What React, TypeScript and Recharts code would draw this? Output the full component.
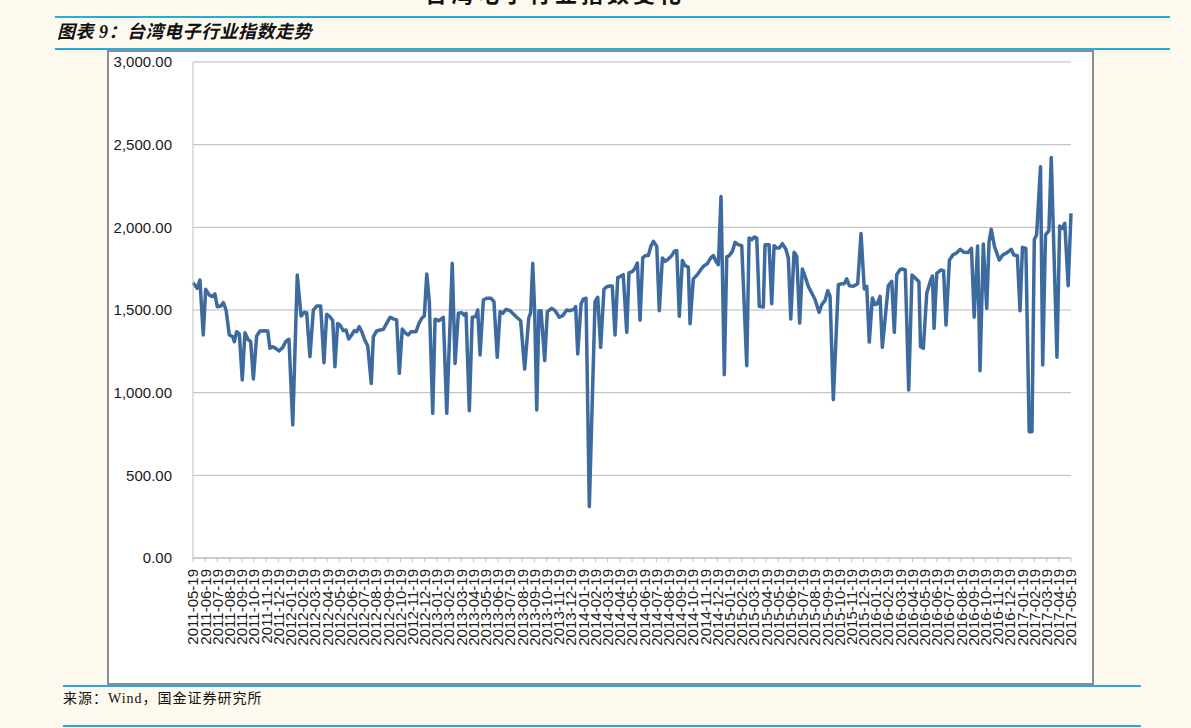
import React from "react";
import { LineChart, Line, XAxis, YAxis, CartesianGrid } from "recharts";

const monthLabels = [
  "2011-05-19","2011-06-19","2011-07-19","2011-08-19","2011-09-19","2011-10-19","2011-11-19","2011-12-19",
  "2012-01-19","2012-02-19","2012-03-19","2012-04-19","2012-05-19","2012-06-19","2012-07-19","2012-08-19",
  "2012-09-19","2012-10-19","2012-11-19","2012-12-19","2013-01-19","2013-02-19","2013-03-19","2013-04-19",
  "2013-05-19","2013-06-19","2013-07-19","2013-08-19","2013-09-19","2013-10-19","2013-11-19","2013-12-19",
  "2014-01-19","2014-02-19","2014-03-19","2014-04-19","2014-05-19","2014-06-19","2014-07-19","2014-08-19",
  "2014-09-19","2014-10-19","2014-11-19","2014-12-19","2015-01-19","2015-02-19","2015-03-19","2015-04-19",
  "2015-05-19","2015-06-19","2015-07-19","2015-08-19","2015-09-19","2015-10-19","2015-11-19","2015-12-19",
  "2016-01-19","2016-02-19","2016-03-19","2016-04-19","2016-05-19","2016-06-19","2016-07-19","2016-08-19",
  "2016-09-19","2016-10-19","2016-11-19","2016-12-19","2017-01-19","2017-02-19","2017-03-19","2017-04-19",
  "2017-05-19",
];

// time position of each observation, in months after 2011-05-19
const pointMonths = [
  0, 0.35, 0.57, 0.84, 1.04, 1.34, 1.56, 1.8, 1.99, 2.27, 2.49, 2.71, 2.98, 3.26, 3.39, 3.58, 3.8, 4.04, 4.26, 4.54,
  4.73, 4.95, 5.22, 5.49, 5.9, 6.13, 6.31, 6.54, 6.78, 7.05, 7.36, 7.6, 7.87, 8.18, 8.55, 8.86, 9.13, 9.32, 9.59, 9.87,
  10.14, 10.47, 10.74, 10.96, 11.23, 11.46, 11.64, 11.86, 12.05, 12.33, 12.55, 12.77, 13.01, 13.23, 13.42, 13.64, 13.84, 14.05, 14.33, 14.62,
  14.79, 15.06, 15.34, 15.61, 15.88, 16.16, 16.43, 16.7, 16.92, 17.16, 17.44, 17.66, 17.88, 18.29, 18.53, 18.76, 18.97, 19.17, 19.38, 19.66,
  19.85, 20.17, 20.53, 20.81, 21.26, 21.49, 21.76, 22.04, 22.22, 22.39, 22.66, 22.9, 23.18, 23.35, 23.54, 23.81, 24.08, 24.44, 24.68, 24.95,
  25.18, 25.4, 25.67, 26.0, 26.27, 26.55, 26.87, 27.2, 27.53, 27.69, 27.86, 28.02, 28.19, 28.37, 28.54, 28.84, 29.06, 29.42, 29.69, 30.04,
  30.32, 30.65, 30.92, 31.24, 31.38, 31.55, 31.82, 32.0, 32.23, 32.5, 32.97, 33.19, 33.43, 33.7, 33.93, 34.2, 34.38, 34.61, 34.83, 35.02,
  35.28, 35.57, 35.75, 36.06, 36.25, 36.44, 36.66, 36.88, 37.1, 37.34, 37.54, 37.76, 38.03, 38.24, 38.49, 38.71, 38.98, 39.26, 39.47, 39.67,
  39.88, 40.13, 40.35, 40.62, 40.76, 41.03, 41.36, 41.64, 41.91, 42.18, 42.46, 42.67, 42.89, 43.08, 43.3, 43.57, 43.77, 43.98, 44.23, 44.45,
  44.72, 45.0, 45.41, 45.6, 45.82, 46.03, 46.23, 46.44, 46.77, 46.91, 47.24, 47.46, 47.65, 47.87, 48.08, 48.33, 48.61, 48.82, 49.02, 49.29,
  49.51, 49.75, 49.97, 50.19, 50.46, 50.74, 51.01, 51.34, 51.56, 51.83, 52.05, 52.24, 52.51, 52.92, 53.2, 53.41, 53.61, 53.82, 54.15, 54.51,
  54.78, 55.05, 55.25, 55.46, 55.71, 55.93, 56.12, 56.34, 56.53, 57.02, 57.3, 57.51, 57.71, 57.98, 58.13, 58.41, 58.69, 58.96, 59.25, 59.53,
  59.66, 59.89, 60.17, 60.45, 60.64, 60.77, 60.99, 61.33, 61.55, 61.75, 62.03, 62.31, 62.59, 62.92, 63.23, 63.55, 63.84, 64.06, 64.34, 64.54,
  64.81, 65.09, 65.28, 65.46, 65.73, 66.12, 66.4, 66.76, 67.1, 67.32, 67.6, 67.82, 68.02, 68.3, 68.57, 68.8, 68.99, 69.18, 69.5, 69.68,
  69.91, 70.19, 70.38, 70.85, 71.07, 71.3, 71.49, 71.77, 72.0,
];

const indexValues = [
  1665, 1631, 1681, 1349, 1625, 1591, 1581, 1597, 1520, 1524, 1544, 1500, 1349, 1339, 1308, 1369, 1355, 1077, 1363, 1319,
  1308, 1083, 1343, 1373, 1375, 1373, 1268, 1278, 1268, 1252, 1274, 1308, 1323, 805, 1712, 1464, 1486, 1484, 1218, 1500,
  1524, 1524, 1181, 1474, 1460, 1435, 1157, 1419, 1409, 1375, 1379, 1325, 1349, 1375, 1369, 1399, 1369, 1325, 1282, 1056,
  1339, 1373, 1379, 1383, 1419, 1456, 1446, 1440, 1117, 1385, 1359, 1349, 1369, 1369, 1419, 1450, 1464, 1718, 1550, 875,
  1444, 1435, 1456, 875, 1782, 1177, 1480, 1484, 1470, 1480, 891, 1456, 1460, 1500, 1228, 1560, 1571, 1571, 1550, 1214,
  1490, 1480, 1504, 1496, 1476, 1456, 1435, 1143, 1450, 1484, 1782, 1490, 895, 1496, 1496, 1194, 1490, 1510, 1496, 1456,
  1466, 1500, 1496, 1504, 1520, 1234, 1536, 1565, 1571, 311, 1550, 1577, 1274, 1625, 1641, 1645, 1645, 1349, 1696, 1702,
  1714, 1365, 1724, 1734, 1754, 1784, 1438, 1815, 1829, 1829, 1885, 1915, 1885, 1496, 1815, 1794, 1808, 1829, 1855, 1859,
  1462, 1800, 1768, 1760, 1417, 1688, 1714, 1744, 1768, 1780, 1815, 1829, 1794, 1774, 2187, 1109, 1821, 1829, 1855, 1909,
  1895, 1889, 1163, 1935, 1925, 1942, 1935, 1522, 1518, 1895, 1895, 1538, 1889, 1875, 1875, 1901, 1869, 1815, 1446, 1849,
  1825, 1421, 1748, 1704, 1643, 1603, 1563, 1486, 1532, 1558, 1617, 1583, 958, 1653, 1659, 1659, 1688, 1647, 1643, 1659,
  1962, 1627, 1643, 1306, 1573, 1532, 1538, 1583, 1274, 1647, 1673, 1365, 1714, 1744, 1748, 1742, 1016, 1712, 1692, 1671,
  1278, 1268, 1601, 1671, 1706, 1389, 1722, 1742, 1738, 1409, 1802, 1833, 1843, 1867, 1849, 1847, 1873, 1456, 1887, 1133,
  1899, 1510, 1913, 1988, 1883, 1802, 1833, 1847, 1867, 1833, 1829, 1496, 1879, 1873, 764, 764, 1927, 1954, 2367, 1167,
  1954, 1980, 2423, 1214, 2008, 1994, 2024, 1647, 2085,
];

const yTicks = [0, 500, 1000, 1500, 2000, 2500, 3000];

const data = pointMonths.map((t, i) => ({ t, v: indexValues[i] }));
const monthTicks = monthLabels.map((_, i) => i);

const AXIS_FONT = "'Liberation Sans', Arial, sans-serif";

const XTick = (props: any) => {
  const { x, y, payload } = props;
  return (
    <g transform={`translate(${x},${y})`}>
      <text
        transform="rotate(-90)"
        textAnchor="end"
        dy="0.36em"
        fontSize={15}
        fill="#1a1a1a"
        fontFamily={AXIS_FONT}
      >
        {monthLabels[payload.value]}
      </text>
    </g>
  );
};

const fmt = (n: number) =>
  n.toLocaleString("en-US", { minimumFractionDigits: 2, maximumFractionDigits: 2 });

export default function App() {
  const blue = "#2AA8E2";
  return (
    <div
      style={{
        position: "absolute",
        left: 0,
        top: 0,
        width: 1191,
        height: 728,
        background: "#FDF9EE",
        overflow: "hidden",
      }}
    >
      <div
        style={{
          position: "absolute",
          left: 425,
          top: -20,
          fontSize: 22,
          fontWeight: 700,
          lineHeight: "24px",
          letterSpacing: 4,
          whiteSpace: "nowrap",
          color: "#111",
          fontFamily: "'Noto Sans CJK SC', sans-serif",
        }}
      >
        台湾电子行业指数变化
      </div>
      <div style={{ position: "absolute", left: 55, top: 16, width: 1115, height: 2, background: blue }} />
      <div
        style={{
          position: "absolute",
          left: 57,
          top: 20,
          fontSize: 18,
          fontWeight: 700,
          fontStyle: "italic",
          lineHeight: "24px",
          letterSpacing: 0.5,
          whiteSpace: "nowrap",
          color: "#111",
          fontFamily: "'Liberation Serif', 'Noto Sans CJK SC', serif",
        }}
      >
        图表 9：台湾电子行业指数走势
      </div>
      <div style={{ position: "absolute", left: 55, top: 48, width: 1115, height: 2, background: blue }} />
      <div
        style={{
          position: "absolute",
          left: 107,
          top: 50,
          width: 987,
          height: 635,
          boxSizing: "border-box",
          border: "2px solid #8c8c8c",
          background: "#ffffff",
        }}
      />
      <div style={{ position: "absolute", left: 63, top: 685, width: 1078, height: 2, background: blue }} />
      <div
        style={{
          position: "absolute",
          left: 63,
          top: 690,
          fontSize: 14,
          letterSpacing: 1,
          lineHeight: "18px",
          whiteSpace: "nowrap",
          color: "#111",
          fontFamily: "'Liberation Serif', 'Noto Sans CJK SC', serif",
        }}
      >
        来源：Wind，国金证券研究所
      </div>
      <div style={{ position: "absolute", left: 63, top: 725, width: 1078, height: 2, background: blue }} />

      <div style={{ position: "absolute", left: 0, top: 0 }}>
        <LineChart
          width={1191}
          height={728}
          data={data}
          margin={{ top: 62, right: 120, bottom: 80, left: 108 }}
        >
          <CartesianGrid horizontal vertical={false} stroke="#b8b8b8" strokeWidth={1} />
          <XAxis
            dataKey="t"
            type="number"
            domain={[0, 72]}
            ticks={monthTicks}
            interval={0}
            height={90}
            tick={<XTick />}
            tickSize={4}
            tickMargin={7}
            stroke="#bfbfbf"
            tickLine={{ stroke: "#bfbfbf" }}
            axisLine={{ stroke: "#bfbfbf" }}
          />
          <YAxis
            type="number"
            domain={[0, 3000]}
            ticks={yTicks}
            interval={0}
            width={85}
            tickLine={false}
            tickSize={6}
            tickMargin={15}
            axisLine={{ stroke: "#bfbfbf" }}
            tickFormatter={fmt}
            tick={{ fontSize: 15, fill: "#1a1a1a", fontFamily: AXIS_FONT }}
          />
          <Line
            type="linear"
            dataKey="v"
            stroke="#3D6A9F"
            strokeWidth={3.5}
            dot={false}
            isAnimationActive={false}
            strokeLinejoin="round"
          />
        </LineChart>
      </div>
    </div>
  );
}
